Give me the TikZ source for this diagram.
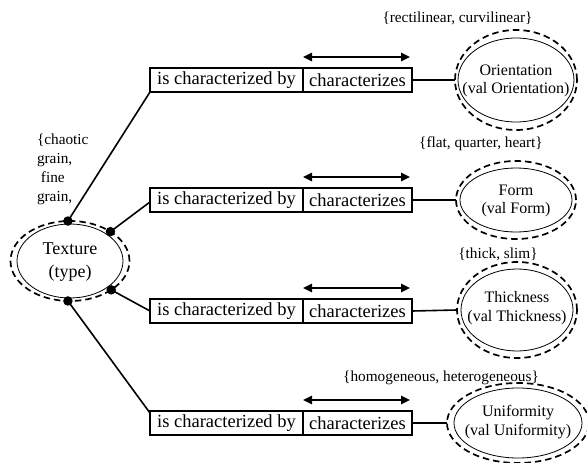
\documentclass[tikz,border=0pt]{standalone}
\usepackage{fontspec}
\setmainfont{Liberation Serif}
\usetikzlibrary{arrows.meta,shapes.geometric}
\tikzset{
  lbl/.style={font=\fontsize{15.3}{18.5}\selectfont, inner sep=0pt, outer sep=0pt},
  relbox/.style={draw, line width=1.8pt, minimum height=24pt, inner sep=0pt, outer sep=0pt, font=\fontsize{18.5}{22}\selectfont},
  conn/.style={line width=1.6pt},
  dbl/.style={line width=1.6pt, {Triangle[length=9pt,width=8.5pt]}-{Triangle[length=9pt,width=8.5pt]}},
  inell/.style={draw, ellipse, line width=0.8pt, inner sep=0pt, outer sep=0pt},
  outell/.style={draw, ellipse, line width=1.7pt, dash pattern=on 6.5pt off 4pt, inner sep=0pt, outer sep=0pt},
  etext/.style={align=center, inner sep=0pt, font=\fontsize{16}{18.5}\selectfont},
  dotnode/.style={circle, fill=black, inner sep=0pt, minimum size=9.5pt},
}
\begin{document}
\begin{tikzpicture}[x=1pt,y=-1pt]
\useasboundingbox (0,0) rectangle (587,463);

% Texture ellipse
\node[outell, minimum width=119pt, minimum height=80pt] (texo) at (70,261) {};
\node[inell, minimum width=106pt, minimum height=74pt] (texi) at (70,261) {};
\node[etext, font=\fontsize{18}{22.5}\selectfont] (text) at (70,262) {Texture\\(type)};

% grain label
\node[lbl, anchor=north west, align=left, font=\fontsize{15.3}{19}\selectfont] (grain) at (37,134) {\{chaotic\\grain,\\\hspace*{4pt}fine\\grain,};

% relation boxes
\foreach \i/\y in {1/80,2/200,3/311,4/423}{
  \node[relbox, minimum width=153pt] (lb\i) at (226.5,\y) {is characterized by};
  \node[relbox, minimum width=109pt] (rb\i) at (357.5,\y) {characterizes};
  \draw[dbl] ([yshift=11pt]rb\i.north west) -- ([yshift=11pt,xshift=-2pt]rb\i.north east);
}

% value ellipses
\node[outell, minimum width=122pt, minimum height=100pt] (oo) at (516,80) {};
\node[inell, minimum width=116pt, minimum height=84pt] (oi) at (516,80) {};
\node[etext] (ot) at (516,81) {Orientation\\(val Orientation)};

\node[outell, minimum width=120pt, minimum height=78pt] (fo) at (516,200) {};
\node[inell, minimum width=112pt, minimum height=64pt] (fi) at (516,200) {};
\node[etext] (ft) at (516,201) {Form\\(val Form)};

\node[outell, minimum width=120pt, minimum height=96pt] (to) at (517,310) {};
\node[inell, minimum width=112pt, minimum height=82pt] (ti) at (517,310) {};
\node[etext] (tt) at (517,308) {Thickness\\(val Thickness)};

\node[outell, minimum width=142pt, minimum height=80pt] (uo) at (518,423) {};
\node[inell, minimum width=128pt, minimum height=70pt] (ui) at (518,423) {};
\node[etext] (ut) at (518,422) {Uniformity\\(val Uniformity)};

% value-set labels
\node[lbl, anchor=base] (l1) at (457.5,22) {\{rectilinear, curvilinear\}};
\node[lbl, anchor=base] (l2) at (481,147) {\{flat, quarter, heart\}};
\node[lbl, anchor=base] (l3) at (498,258) {\{thick, slim\}};
\node[lbl, anchor=base] (l4) at (441,381) {\{homogeneous, heterogeneous\}};

% connectors box -> value ellipse
\draw[conn] (rb1.east) -- (oo.west);
\draw[conn] (rb2.east) -- (fo.west);
\draw[conn] (rb3.east) -- (to.west);
\draw[conn] (rb4.east) -- (uo.west);

% dots on texture
\node[dotnode] (d1) at (texo.93) {};
\node[dotnode] (d2) at (texo.36) {};
\node[dotnode] (d3) at (texo.-35) {};
\node[dotnode] (d4) at (texo.-93) {};

\draw[conn] (d1.center) -- (lb1.south west);
\draw[conn] (d2.center) -- ([yshift=-2pt]lb2.west);
\draw[conn] (d3.center) -- (lb3.west);
\draw[conn] (d4.center) -- ([yshift=-2pt]lb4.north west);
\end{tikzpicture}
\end{document}
